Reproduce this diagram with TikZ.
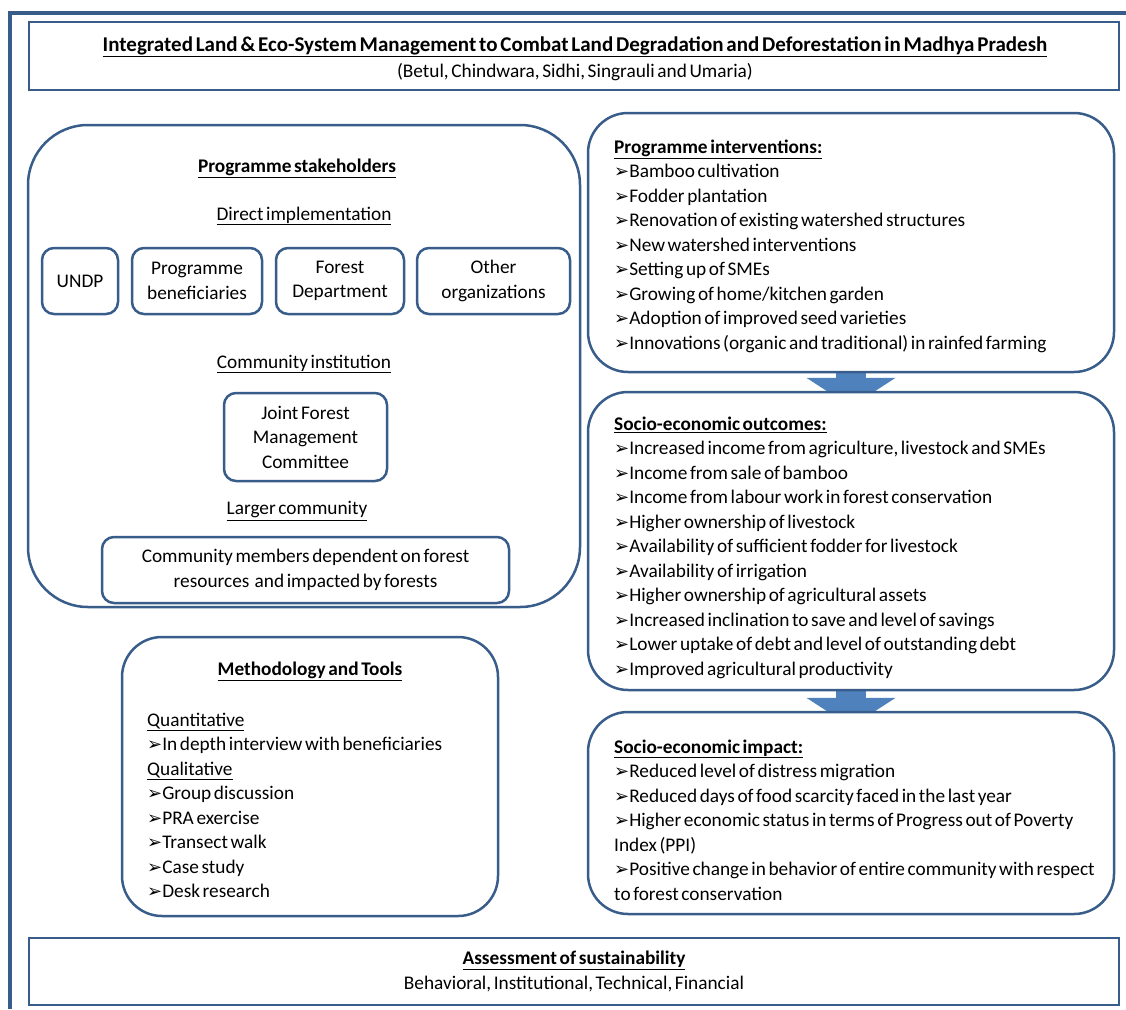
\documentclass[tikz,border=0pt]{standalone}
\usepackage{fontspec}
\setmainfont{Carlito}[WordSpace=0.6]
\newfontfamily\symfont{DejaVu Sans}
\usetikzlibrary{arrows.meta,backgrounds}
\definecolor{boxblue}{HTML}{385D8A}
\definecolor{arrowblue}{HTML}{4F81BD}
\newcommand{\bul}{{\symfont\fontsize{18}{18}\selectfont ➢}}
\newcommand{\hd}[1]{\textbf{\underline{#1}}}

\begin{document}
\begin{tikzpicture}[x=1pt, y=-1pt, font=\fontsize{19.3}{24.5}\selectfont,
    frame/.style={draw=boxblue, fill=white, line width=2.5pt},
    panel/.style={frame, rounded corners=40pt},
    smallbox/.style={frame, rounded corners=12pt, align=center},
    list/.style={anchor=north west, align=left, inner sep=0pt},
    bigarrow/.style={arrowblue, line width=30pt, -{Triangle[width=88pt, length=29pt]}}]
    \useasboundingbox (0,0) rectangle (1126,1009);
    \draw[boxblue, line width=3.5pt] (10,1009) -- (10,13) -- (1126,13);

    % header and footer
    \node[frame, minimum width=1090pt, minimum height=68pt] (title) at (574,56) {};
    \node[align=center, font=\fontsize{21}{26}\selectfont] (titletext) at (575,59)
        {\hd{Integrated Land \& Eco-System Management to Combat Land Degradation and Deforestation in Madhya Pradesh}\\
        {\fontsize{19.3}{24.5}\selectfont (Betul, Chindwara, Sidhi, Singrauli and Umaria)}};
    \node[frame, minimum width=1090pt, minimum height=67pt, align=center] (assess) at (574,971.5)
        {\hd{Assessment of sustainability}\\Behavioral, Institutional, Technical, Financial};

    % stakeholders
    \node[panel, rounded corners=60pt, minimum width=552pt, minimum height=482pt] (stake) at (304,366) {};
    \node (stakehead) at (297,168) {\hd{Programme stakeholders}};
    \node (direct) at (304,216) {\underline{Direct implementation}};
    \node[smallbox, minimum width=76pt, minimum height=66pt] (undp) at (80,281) {UNDP};
    \node[smallbox, minimum width=130pt, minimum height=66pt] (benef) at (197,281) {Programme\\beneficiaries};
    \node[smallbox, minimum width=128pt, minimum height=66pt] (forest) at (340,281) {Forest\\Department};
    \node[smallbox, minimum width=153pt, minimum height=66pt] (other) at (493.5,281) {Other\\organizations};
    \node (commin) at (304,364) {\underline{Community institution}};
    \node[smallbox, minimum width=163pt, minimum height=88pt] (jfmc) at (305.5,437) {Joint Forest\\Management\\Committee};
    \node (larger) at (297,511) {\underline{Larger community}};
    \node[smallbox, minimum width=407pt, minimum height=66pt] (members) at (305.5,570)
        {Community members dependent on forest\\resources\ \ and impacted by forests};

    % methodology
    \node[panel, minimum width=376pt, minimum height=279pt] (method) at (310,776.5) {};
    \node (methhead) at (310,671) {\hd{Methodology and Tools}};
    \node[list] (methlist) at (147,712.5) {\underline{Quantitative}\\
        \bul In depth interview with beneficiaries\\
        \underline{Qualitative}\\
        \bul Group discussion\\
        \bul PRA exercise\\
        \bul Transect walk\\
        \bul Case study\\
        \bul Desk research};

    % results chain
    \node[panel, minimum width=526pt, minimum height=259pt] (interv) at (851,242.5) {};
    \node[list] (intervlist) at (614,139.5) {\hd{Programme interventions:}\\
        \bul Bamboo cultivation\\
        \bul Fodder plantation\\
        \bul Renovation of existing watershed structures\\
        \bul New watershed interventions\\
        \bul Setting up of SMEs\\
        \bul Growing of home/kitchen garden\\
        \bul Adoption of improved seed varieties\\
        \bul Innovations (organic and traditional) in rainfed farming};
    \node[panel, minimum width=526pt, minimum height=298pt] (outc) at (851,541) {};
    \node[list] (outclist) at (614,416.5) {\hd{Socio-economic outcomes:}\\
        \bul Increased income from agriculture, livestock and SMEs\\
        \bul Income from sale of bamboo\\
        \bul Income from labour work in forest conservation\\
        \bul Higher ownership of livestock\\
        \bul Availability of sufficient fodder for livestock\\
        \bul Availability of irrigation\\
        \bul Higher ownership of agricultural assets\\
        \bul Increased inclination to save and level of savings\\
        \bul Lower uptake of debt and level of outstanding debt\\
        \bul Improved agricultural productivity};
    \node[panel, minimum width=526pt, minimum height=202pt] (impact) at (851,813) {};
    \node[list] (impactlist) at (614,739.5) {\hd{Socio-economic impact:}\\
        \bul Reduced level of distress migration\\
        \bul Reduced days of food scarcity faced in the last year\\
        \bul Higher economic status in terms of Progress out of Poverty\\
        Index (PPI)\\
        \bul Positive change in behavior of entire community with respect\\
        to forest conservation};

    \begin{scope}[on background layer]
        \draw[bigarrow] (interv.south) -- ([yshift=-16pt]outc.north);
        \draw[bigarrow] (outc.south) -- ([yshift=-16pt]impact.north);
    \end{scope}
\end{tikzpicture}
\end{document}
